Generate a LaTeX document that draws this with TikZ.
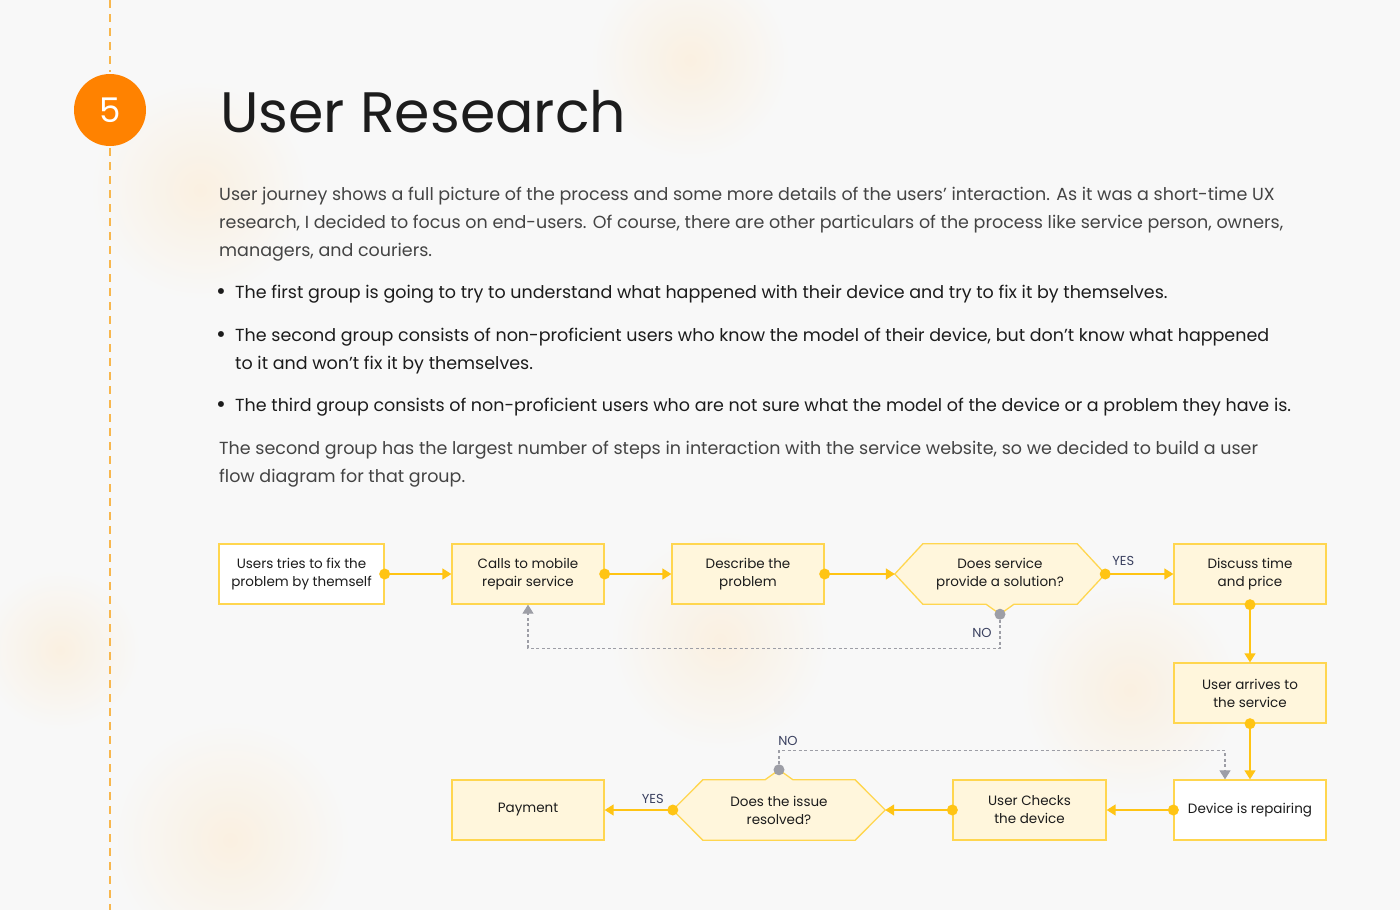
\documentclass[tikz,border=0pt]{standalone}
\usepackage{fontspec}
\setmainfont{Poppins}
\usetikzlibrary{arrows.meta, calc, positioning}

\definecolor{bgcol}{HTML}{F8F8F8}
\definecolor{blob}{HTML}{FAF0E1}
\definecolor{amber}{HTML}{FFC414}
\definecolor{edge}{HTML}{FFD64F}
\definecolor{cream}{HTML}{FFF6DC}
\definecolor{grayline}{HTML}{9D9EA6}
\definecolor{labelcol}{HTML}{3B4160}
\definecolor{bodycol}{HTML}{444444}
\definecolor{ink}{HTML}{1C1C1C}
\definecolor{accent}{HTML}{FF8200}
\definecolor{dashcol}{HTML}{F8B74D}

\pgfdeclarelayer{paper}
\pgfdeclarelayer{background}
\pgfsetlayers{paper,background,main}

\tikzset{
  box/.style={draw=edge, fill=cream, line width=1.3pt, minimum width=152pt,
    minimum height=60pt, align=center, inner sep=0pt, text=ink,
    font=\fontsize{13.5}{18}\selectfont},
  plainbox/.style={box, fill=white},
  choice/.style={minimum width=210pt, minimum height=60pt, align=center,
    inner sep=0pt, text=ink, font=\fontsize{13.5}{18}\selectfont},
  hexa/.style={draw=edge, fill=cream, line width=1.3pt, line join=miter},
  flow/.style={amber, line width=1.5pt, -{Triangle[length=9pt,width=11pt]}},
  nope/.style={grayline, line width=1.2pt, dash pattern=on 3pt off 2.5pt,
    -{Triangle[length=9pt,width=11pt]}},
  tag/.style={text=labelcol, font=\fontsize{13}{13}\selectfont},
  body/.style={anchor=base west, align=left, inner sep=0pt,
    font=\fontsize{17.5}{28}\selectfont},
}

\begin{document}
\begin{tikzpicture}[x=1pt, y=-1pt]
\useasboundingbox (0,0) rectangle (1400,910);

% paper and soft blobs
\begin{pgfonlayer}{paper}
\fill[bgcol] (0,0) rectangle (1400,910);
\shade[inner color=blob, outer color=bgcol] (690,60) circle (100);
\shade[inner color=blob, outer color=bgcol] (200,190) circle (110);
\shade[inner color=blob, outer color=bgcol] (1130,690) circle (110);
\shade[inner color=blob, outer color=bgcol] (230,840) circle (120);
\shade[inner color=blob, outer color=bgcol] (60,650) circle (80);
\shade[inner color=blob, outer color=bgcol] (720,640) circle (110);
\end{pgfonlayer}

% timeline
\draw[dashcol, line width=2pt, dash pattern=on 8pt off 6pt] (110,0) -- (110,72);
\draw[dashcol, line width=2pt, dash pattern=on 8pt off 6pt] (110,148) -- (110,910);
\node[circle, fill=accent, minimum size=72pt, inner sep=0pt, text=white,
  font=\fontsize{34}{34}\selectfont] (step5) at (110,110) {5};

% header text (base = last line)
\node[anchor=base west, inner sep=0pt, text=ink, font=\fontsize{57}{57}\selectfont]
  (title) at (220,132) {User Research};

\node[body, text=bodycol] (intro) at (219,256)
  {User journey shows a full picture of the process and some more details of the users' interaction. As it was a short-time UX\\
   research, I decided to focus on end-users. Of course, there are other particulars of the process like service person, owners,\\
   managers, and couriers.};

\node[body, text=ink, font=\fontsize{24}{28}\selectfont] (dot1) at (216,299) {•};
\node[body, text=ink] (grp1) at (235,298)
  {The first group is going to try to understand what happened with their device and try to fix it by themselves.};
\node[body, text=ink, font=\fontsize{24}{28}\selectfont] (dot2) at (216,342) {•};
\node[body, text=ink] (grp2) at (235,369)
  {The second group consists of non-proficient users who know the model of their device, but don't know what happened\\
   to it and won't fix it by themselves.};
\node[body, text=ink, font=\fontsize{24}{28}\selectfont] (dot3) at (216,412) {•};
\node[body, text=ink] (grp3) at (235,411)
  {The third group consists of non-proficient users who are not sure what the model of the device or a problem they have is.};

\node[body, text=bodycol] (outro) at (219,482)
  {The second group has the largest number of steps in interaction with the service website, so we decided to build a user\\
   flow diagram for that group.};

% flow nodes
\node[plainbox, minimum width=165pt] (u1) at (301.5,574) {Users tries to fix the\\problem by themself};
\node[box] (u2) at (528,574) {Calls to mobile\\repair service};
\node[box] (u3) at (748,574) {Describe the\\problem};
\node[choice] (q1) at (1000,574) {Does service\\provide a solution?};
\node[box] (u4) at (1250,574) {Discuss time\\and price};
\node[box] (u5) at (1250,693) {User arrives to\\the service};
\node[plainbox] (u6) at (1250,810) {Device is repairing};
\node[box, minimum width=153pt] (u7) at (1029.5,810) {User Checks\\the device};
\node[choice, minimum width=212pt] (q2) at (779,810) {Does the issue\\resolved?};
\node[box] (u8) at (528,810) {Payment};

% hexagons behind the questions
\coordinate (n1) at ($(q1.south)+(0,10)$);
\coordinate (n2) at ($(q2.north)+(0,-10)$);
\begin{pgfonlayer}{background}
\draw[hexa] (q1.west) -- ($(q1.north west)+(28,0)$) -- ($(q1.north east)+(-28,0)$)
  -- (q1.east) -- ($(q1.south east)+(-28,0)$) -- ($(q1.south)+(14,0)$) -- (n1)
  -- ($(q1.south)+(-14,0)$) -- ($(q1.south west)+(28,0)$) -- cycle;
\draw[hexa] (q2.west) -- ($(q2.north west)+(30,0)$) -- ($(q2.north)+(-14,0)$) -- (n2)
  -- ($(q2.north)+(14,0)$) -- ($(q2.north east)+(-30,0)$) -- (q2.east)
  -- ($(q2.south east)+(-30,0)$) -- ($(q2.south west)+(30,0)$) -- cycle;
\end{pgfonlayer}

% connectors
\draw[flow] (u1.east) -- (u2.west);
\draw[flow] (u2.east) -- (u3.west);
\draw[flow] (u3.east) -- (q1.west);
\draw[flow] (q1.east) -- (u4.west);
\draw[flow] (u4.south) -- (u5.north);
\draw[flow] (u5.south) -- (u6.north);
\draw[flow] (u6.west) -- (u7.east);
\draw[flow] (u7.west) -- (q2.east);
\draw[flow] (q2.west) -- (u8.east);

\coordinate (r6) at ($(u6.north)+(-25,0)$);
\draw[nope] (n1) -- ++(0,34) -| (u2.south);
\draw[nope] (n2) -- ++(0,-19) -| (r6);

\fill[amber] (u1.east) circle (5.5pt);
\fill[amber] (u2.east) circle (5.5pt);
\fill[amber] (u3.east) circle (5.5pt);
\fill[amber] (q1.east) circle (5.5pt);
\fill[amber] (u4.south) circle (5.5pt);
\fill[amber] (u5.south) circle (5.5pt);
\fill[amber] (u6.west) circle (5.5pt);
\fill[amber] (u7.west) circle (5.5pt);
\fill[amber] (q2.west) circle (5.5pt);
\fill[grayline] (n1) circle (5.5pt);
\fill[grayline] (n2) circle (5.5pt);

% branch labels
\node[tag] (yes1) at ($(q1.east)+(18,-13)$) {YES};
\node[tag] (no1) at ($(n1)+(-18,19)$) {NO};
\node[tag] (yes2) at ($(q2.west)+(-20,-11)$) {YES};
\node[tag] (no2) at ($(n2)+(9,-29)$) {NO};
\end{tikzpicture}
\end{document}
